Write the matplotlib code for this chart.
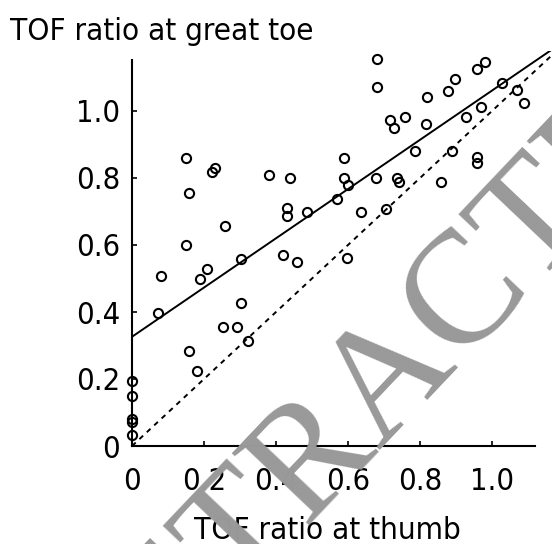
import os
import numpy as np
import matplotlib
matplotlib.use("Agg")
import matplotlib.pyplot as plt
from matplotlib import font_manager
from matplotlib.font_manager import FontProperties
from matplotlib.textpath import TextPath

# TOF ratio, thumb (x) vs great toe (y)
thumb = [0.000, 0.000, 0.000, 0.000, 0.000, 0.071, 0.080, 0.150, 0.158, 0.150,
         0.159, 0.181, 0.189, 0.209, 0.221, 0.231, 0.252, 0.258, 0.291, 0.302,
         0.302, 0.321, 0.381, 0.419, 0.430, 0.430, 0.439, 0.459, 0.487, 0.569,
         0.589, 0.589, 0.599, 0.596, 0.636, 0.678, 0.680, 0.680, 0.706, 0.717,
         0.729, 0.735, 0.742, 0.758, 0.786, 0.817, 0.819, 0.857, 0.879, 0.888,
         0.897, 0.927, 0.957, 0.957, 0.959, 0.969, 0.981, 1.027, 1.069, 1.089]
toe = [0.195, 0.150, 0.080, 0.073, 0.033, 0.396, 0.507, 0.859, 0.756, 0.600,
       0.285, 0.224, 0.498, 0.528, 0.819, 0.831, 0.356, 0.657, 0.356, 0.428,
       0.558, 0.314, 0.809, 0.570, 0.710, 0.688, 0.799, 0.550, 0.698, 0.737,
       0.859, 0.799, 0.779, 0.560, 0.698, 0.801, 1.155, 1.073, 0.707, 0.973,
       0.950, 0.801, 0.789, 0.981, 0.881, 0.961, 1.043, 0.789, 1.061, 0.881,
       1.095, 0.983, 0.864, 0.846, 1.124, 1.013, 1.145, 1.085, 1.063, 1.023]

# regression line
fit_intercept = 0.326
fit_slope = 0.735

x_ticks = [0, 0.2, 0.4, 0.6, 0.8, 1.0]
x_ticklabels = ["0", "0.2", "0.4", "0.6", "0.8", "1.0"]
y_ticks = [0, 0.2, 0.4, 0.6, 0.8, 1.0]
y_ticklabels = ["0", "0.2", "0.4", "0.6", "0.8", "1.0"]

title_txt = "TOF ratio at great toe"
xlab_txt = "TOF ratio at thumb"


# the original uses a tall, narrow typewriter face: take a condensed face if
# one is installed, else fall back to DejaVu Sans Mono
def pick_font():
    prefer = ["LiberationSansNarrow-Regular", "NotoSansMono-ExtraCondensed",
              "NotoSans-ExtraCondensed", "NotoSansMono-Condensed",
              "NotoSans-Condensed", "DejaVuSansCondensed"]
    files = {}
    for f in font_manager.fontManager.ttflist:
        files[os.path.splitext(os.path.basename(f.fname))[0]] = f.fname
    for p in prefer:
        for k, v in files.items():
            if k.replace(" ", "") == p or k.replace("Regular", "").rstrip("-") == p:
                return FontProperties(fname=v)
    return FontProperties(family="DejaVu Sans Mono")


fp = pick_font()


def size_for(s, w_px, h_px, h_s=None):
    # point size giving an ink box near w_px x h_px (geometric mean of both fits)
    ext = TextPath((0, 0), s, size=100, prop=fp).get_extents()
    he = TextPath((0, 0), h_s or s, size=100, prop=fp).get_extents().height
    sw = w_px * 0.72 / ext.width * 100
    sh = h_px * 0.72 / he * 100
    return (sw * sh) ** 0.5


tick_fs = size_for("1.0", 38, 24, "0")
lab_fs = size_for(title_txt, 312, 23, "TOF")

fig = plt.figure(figsize=(5.52, 5.44), dpi=100)
ax = fig.add_axes([132 / 552, 98 / 544, 420 / 552, 395.3 / 544])
ax.set_xlim(0, 1.1667)
ax.set_ylim(0, 1.18)

xs = np.array([0, 1.1667])
ax.plot(xs, fit_intercept + fit_slope * xs, color="black", lw=1.4, zorder=2)
ax.plot(xs, xs, color="black", lw=1.4, linestyle=(0, (2.6, 2.6)), zorder=2)
ax.plot(thumb, toe, linestyle="none", marker="o", markersize=6.6,
        markerfacecolor="none", markeredgecolor="black", markeredgewidth=1.5,
        clip_on=False, zorder=3)

for s in ["top", "right"]:
    ax.spines[s].set_visible(False)
ax.spines["left"].set_bounds(0, 1.152)
ax.spines["bottom"].set_bounds(0, 1.12)
for s in ["left", "bottom"]:
    ax.spines[s].set_linewidth(1.5)

ax.set_xticks(x_ticks)
ax.set_xticklabels(x_ticklabels)
ax.set_yticks(y_ticks)
ax.set_yticklabels(y_ticklabels)
ax.tick_params(axis="both", direction="in", length=3.5, width=1.2)
ax.tick_params(axis="x", pad=15)
ax.tick_params(axis="y", pad=8.5)
for t in ax.get_xticklabels() + ax.get_yticklabels():
    t.set_fontproperties(fp)
    t.set_fontsize(tick_fs)

fig.text(10 / 552, 1 - 40 / 544, title_txt, fontproperties=fp, fontsize=lab_fs,
         ha="left", va="baseline")
fig.text(327 / 552, 5 / 544, xlab_txt, fontproperties=fp, fontsize=lab_fs,
         ha="center", va="baseline")

# watermark
fig.text(381 / 552, 1 - 363 / 544, "RETRACTED", family="Liberation Serif",
         fontsize=116, color="#999999", rotation=46.5, rotation_mode="anchor",
         ha="center", va="center_baseline", zorder=10)

fig.savefig("out.png", dpi=100)
